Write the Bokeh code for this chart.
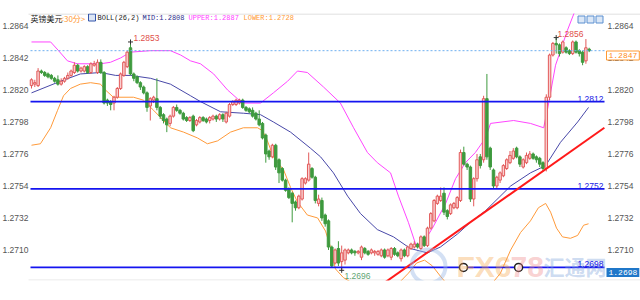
from bokeh.plotting import figure
from bokeh.models import ColumnDataSource, Range1d, Label
from bokeh.embed import file_html
from bokeh.resources import INLINE

# ---------------- data (GBP/USD 30-min candles) ----------------
opens = [1.2823, 1.2824, 1.2823, 1.2833, 1.2832, 1.2831, 1.2830, 1.2828, 1.2827, 1.2824,
         1.2826, 1.2828, 1.2830, 1.2832, 1.2837, 1.2833, 1.2833, 1.2836, 1.2832, 1.2837,
         1.2832, 1.2839, 1.2832, 1.2813, 1.2812, 1.2811, 1.2815, 1.2821, 1.2830, 1.2836,
         1.2849, 1.2831, 1.2829, 1.2825, 1.2822, 1.2818, 1.2809, 1.2813, 1.2814, 1.2808,
         1.2803, 1.2800, 1.2797, 1.2802, 1.2808, 1.2806, 1.2804, 1.2801, 1.2799, 1.2802,
         1.2796, 1.2798, 1.2801, 1.2800, 1.2799, 1.2800, 1.2802, 1.2800, 1.2803, 1.2798,
         1.2802, 1.2810, 1.2810, 1.2811, 1.2813, 1.2808, 1.2807, 1.2806, 1.2804, 1.2800,
         1.2797, 1.2789, 1.2778, 1.2774, 1.2782, 1.2772, 1.2766, 1.2758, 1.2752, 1.2749,
         1.2743, 1.2739, 1.2745, 1.2756, 1.2758, 1.2766, 1.2760, 1.2742, 1.2744, 1.2734,
         1.2730, 1.2712, 1.2701, 1.2711, 1.2702, 1.2703, 1.2708, 1.2710, 1.2709, 1.2708,
         1.2705, 1.2711, 1.2709, 1.2708, 1.2708, 1.2707, 1.2706, 1.2710, 1.2706, 1.2705,
         1.2711, 1.2708, 1.2704, 1.2710, 1.2706, 1.2711, 1.2712, 1.2714, 1.2711, 1.2719,
         1.2713, 1.2725, 1.2730, 1.2742, 1.2744, 1.2749, 1.2737, 1.2735, 1.2739, 1.2739,
         1.2744, 1.2777, 1.2769, 1.2767, 1.2745, 1.2759, 1.2774, 1.2772, 1.2814, 1.2780,
         1.2765, 1.2754, 1.2758, 1.2761, 1.2766, 1.2770, 1.2773, 1.2780, 1.2774, 1.2767,
         1.2770, 1.2773, 1.2776, 1.2774, 1.2773, 1.2770, 1.2766, 1.2815, 1.2844, 1.2852,
         1.2851, 1.2846, 1.2849, 1.2847, 1.2845, 1.2853, 1.2847, 1.2846, 1.2840, 1.2848]
highs = [1.2828, 1.2827, 1.2835, 1.2834, 1.2833, 1.2832, 1.2831, 1.2829, 1.2830, 1.2828,
         1.2829, 1.2832, 1.2834, 1.2839, 1.2838, 1.2836, 1.2837, 1.2837, 1.2839, 1.2840,
         1.2841, 1.2841, 1.2833, 1.2814, 1.2813, 1.2816, 1.2822, 1.2832, 1.2840, 1.2847,
         1.2853, 1.2832, 1.2830, 1.2826, 1.2823, 1.2819, 1.2815, 1.2816, 1.2828, 1.2809,
         1.2804, 1.2801, 1.2803, 1.2809, 1.2810, 1.2807, 1.2805, 1.2802, 1.2802, 1.2803,
         1.2800, 1.2802, 1.2802, 1.2801, 1.2802, 1.2803, 1.2803, 1.2804, 1.2804, 1.2805,
         1.2811, 1.2813, 1.2814, 1.2814, 1.2814, 1.2809, 1.2808, 1.2808, 1.2805, 1.2806,
         1.2798, 1.2790, 1.2779, 1.2783, 1.2783, 1.2773, 1.2767, 1.2759, 1.2753, 1.2750,
         1.2744, 1.2748, 1.2760, 1.2760, 1.2777, 1.2767, 1.2761, 1.2748, 1.2746, 1.2735,
         1.2731, 1.2713, 1.2711, 1.2716, 1.2713, 1.2711, 1.2711, 1.2711, 1.2710, 1.2710,
         1.2713, 1.2712, 1.2710, 1.2711, 1.2710, 1.2710, 1.2711, 1.2711, 1.2711, 1.2712,
         1.2712, 1.2709, 1.2711, 1.2711, 1.2713, 1.2715, 1.2716, 1.2715, 1.2720, 1.2720,
         1.2726, 1.2736, 1.2745, 1.2748, 1.2753, 1.2753, 1.2738, 1.2742, 1.2743, 1.2747,
         1.2779, 1.2781, 1.2770, 1.2768, 1.2760, 1.2776, 1.2776, 1.2816, 1.2831, 1.2781,
         1.2766, 1.2761, 1.2764, 1.2769, 1.2773, 1.2778, 1.2780, 1.2781, 1.2775, 1.2773,
         1.2777, 1.2778, 1.2777, 1.2775, 1.2774, 1.2771, 1.2817, 1.2845, 1.2853, 1.2856,
         1.2852, 1.2854, 1.2850, 1.2848, 1.2854, 1.2854, 1.2848, 1.2847, 1.2855, 1.2849]
lows = [1.2821, 1.2822, 1.2822, 1.2831, 1.2829, 1.2828, 1.2827, 1.2825, 1.2823, 1.2823,
        1.2825, 1.2827, 1.2829, 1.2831, 1.2832, 1.2832, 1.2832, 1.2831, 1.2831, 1.2836,
        1.2831, 1.2831, 1.2810, 1.2809, 1.2806, 1.2806, 1.2814, 1.2820, 1.2829, 1.2835,
        1.2830, 1.2826, 1.2824, 1.2820, 1.2817, 1.2805, 1.2799, 1.2811, 1.2806, 1.2800,
        1.2797, 1.2791, 1.2795, 1.2801, 1.2805, 1.2803, 1.2799, 1.2798, 1.2798, 1.2791,
        1.2795, 1.2797, 1.2798, 1.2797, 1.2797, 1.2799, 1.2798, 1.2799, 1.2798, 1.2797,
        1.2801, 1.2809, 1.2809, 1.2810, 1.2807, 1.2805, 1.2804, 1.2801, 1.2799, 1.2795,
        1.2786, 1.2770, 1.2772, 1.2773, 1.2765, 1.2756, 1.2757, 1.2750, 1.2745, 1.2729,
        1.2737, 1.2738, 1.2744, 1.2755, 1.2757, 1.2759, 1.2742, 1.2740, 1.2730, 1.2726,
        1.2710, 1.2698, 1.2700, 1.2699, 1.2696, 1.2700, 1.2707, 1.2707, 1.2706, 1.2707,
        1.2703, 1.2707, 1.2706, 1.2707, 1.2706, 1.2706, 1.2705, 1.2704, 1.2705, 1.2703,
        1.2706, 1.2705, 1.2702, 1.2705, 1.2705, 1.2710, 1.2711, 1.2711, 1.2710, 1.2712,
        1.2712, 1.2724, 1.2729, 1.2741, 1.2743, 1.2734, 1.2731, 1.2734, 1.2738, 1.2738,
        1.2743, 1.2768, 1.2765, 1.2743, 1.2740, 1.2757, 1.2766, 1.2770, 1.2772, 1.2765,
        1.2752, 1.2752, 1.2756, 1.2760, 1.2765, 1.2769, 1.2772, 1.2773, 1.2767, 1.2766,
        1.2769, 1.2772, 1.2772, 1.2770, 1.2767, 1.2764, 1.2764, 1.2813, 1.2843, 1.2845,
        1.2843, 1.2845, 1.2845, 1.2844, 1.2844, 1.2845, 1.2843, 1.2837, 1.2838, 1.2846]
closes = [1.2827, 1.2825, 1.2833, 1.2832, 1.2830, 1.2829, 1.2828, 1.2826, 1.2824, 1.2826,
          1.2828, 1.2830, 1.2833, 1.2837, 1.2833, 1.2835, 1.2836, 1.2832, 1.2838, 1.2838,
          1.2839, 1.2832, 1.2811, 1.2811, 1.2810, 1.2815, 1.2821, 1.2831, 1.2839, 1.2846,
          1.2831, 1.2828, 1.2825, 1.2822, 1.2818, 1.2808, 1.2814, 1.2815, 1.2808, 1.2802,
          1.2799, 1.2796, 1.2802, 1.2808, 1.2806, 1.2804, 1.2800, 1.2799, 1.2801, 1.2792,
          1.2799, 1.2801, 1.2799, 1.2798, 1.2801, 1.2802, 1.2800, 1.2803, 1.2800, 1.2804,
          1.2810, 1.2812, 1.2813, 1.2813, 1.2808, 1.2806, 1.2805, 1.2802, 1.2800, 1.2796,
          1.2787, 1.2776, 1.2774, 1.2782, 1.2767, 1.2763, 1.2758, 1.2751, 1.2746, 1.2742,
          1.2739, 1.2747, 1.2759, 1.2759, 1.2769, 1.2760, 1.2744, 1.2745, 1.2732, 1.2728,
          1.2712, 1.2699, 1.2710, 1.2701, 1.2708, 1.2710, 1.2710, 1.2708, 1.2708, 1.2709,
          1.2712, 1.2708, 1.2707, 1.2710, 1.2709, 1.2709, 1.2710, 1.2705, 1.2710, 1.2711,
          1.2707, 1.2706, 1.2710, 1.2706, 1.2712, 1.2714, 1.2714, 1.2712, 1.2719, 1.2713,
          1.2725, 1.2735, 1.2744, 1.2747, 1.2747, 1.2736, 1.2733, 1.2741, 1.2742, 1.2746,
          1.2777, 1.2769, 1.2767, 1.2745, 1.2759, 1.2772, 1.2768, 1.2814, 1.2774, 1.2767,
          1.2754, 1.2760, 1.2763, 1.2768, 1.2772, 1.2775, 1.2778, 1.2774, 1.2769, 1.2772,
          1.2775, 1.2776, 1.2773, 1.2772, 1.2769, 1.2766, 1.2815, 1.2844, 1.2852, 1.2851,
          1.2845, 1.2853, 1.2846, 1.2845, 1.2853, 1.2846, 1.2845, 1.2839, 1.2849, 1.2847]

# Bollinger band (26,2) readings: x in candle index, y in price
mid_x = [0, 8.8, 14.8, 20.9, 25.5, 30, 36.1, 42.1, 48.2, 51.2, 57.3, 64.2, 69.4, 73.3, 78.5,
         84.5, 87.6, 91.5, 95.8, 99.7, 104.8, 109.7, 114.8, 120, 123.9, 129.1, 133, 137.6,
         145.2, 151.2, 155.8, 160.3, 165.5, 168.8]
mid_y = [1.2818, 1.2826, 1.2831, 1.2832, 1.2830, 1.2830, 1.2828, 1.2824, 1.2816, 1.2812,
         1.2805, 1.2804, 1.2803, 1.2798, 1.2791, 1.2780, 1.2774, 1.2763, 1.2747, 1.2735,
         1.2724, 1.2719, 1.2711, 1.2708, 1.2712, 1.2721, 1.2729, 1.2737, 1.2754, 1.2763,
         1.2768, 1.2784, 1.2798, 1.2808]
up_x = [0, 5.8, 8.2, 10.9, 13.9, 20.9, 23.9, 27, 30, 36.1, 42.1, 45.2, 48.2, 51.2, 55.2,
        59.4, 62.4, 64.2, 69.4, 73.3, 77.6, 80.6, 83.6, 88.5, 93.6, 97.6, 101.8, 104.8,
        108.8, 111.2, 114.2, 116.4, 118.5, 121.5, 125.5, 128.5, 131.5, 134.5, 137.6, 139.1,
        146.1, 151.2, 155.2, 156.4, 158.8, 160.9, 162.4, 164.8, 168.8]
up_y = [1.2853, 1.2853, 1.2847, 1.2840, 1.2838, 1.2838, 1.2839, 1.2842, 1.2846, 1.2847,
        1.2847, 1.2844, 1.2840, 1.2838, 1.2831, 1.2820, 1.2814, 1.2811, 1.2811, 1.2818,
        1.2826, 1.2833, 1.2832, 1.2822, 1.2811, 1.2794, 1.2777, 1.2770, 1.2763, 1.2747,
        1.2729, 1.2714, 1.2714, 1.2725, 1.2742, 1.2759, 1.2770, 1.2777, 1.2787, 1.2797,
        1.2799, 1.2797, 1.2794, 1.2807, 1.2837, 1.2851, 1.2861, 1.2875, 1.2887]
lo_x = [0, 2.7, 5.8, 7.9, 9.7, 11.8, 14.8, 17.9, 20.9, 22.4, 24.8, 30.9, 33.9, 37, 40,
        42.1, 46.1, 50.3, 53.3, 56.4, 60.3, 64.2, 68.5, 70, 71.5, 73.3, 76.4, 78.5, 80.6,
        83.6, 86.7, 89.1, 90.6, 92.1, 94.5, 96.7, 101.2, 107.3, 111.2, 114.2, 116.7, 119.1,
        121.5, 123.9, 126.1, 130, 135.5, 138.5, 142.1, 145.2, 148.2, 151.2, 153.6, 155.8,
        157.3, 159.1, 160.9, 163.3, 165.5, 167.3, 168.8]
lo_y = [1.2782, 1.2783, 1.2794, 1.2806, 1.2816, 1.2821, 1.2824, 1.2825, 1.2824, 1.2820,
        1.2815, 1.2815, 1.2813, 1.2806, 1.2799, 1.2794, 1.2791, 1.2787, 1.2783, 1.2785,
        1.2791, 1.2794, 1.2794, 1.2792, 1.2785, 1.2774, 1.2765, 1.2753, 1.2743, 1.2734,
        1.2732, 1.2723, 1.2712, 1.2697, 1.2691, 1.2688, 1.2675, 1.2675, 1.2687, 1.2694,
        1.2701, 1.2703, 1.2699, 1.2692, 1.2686, 1.2675, 1.2675, 1.2684, 1.2694, 1.2710,
        1.2722, 1.2730, 1.2739, 1.2742, 1.2736, 1.2725, 1.2719, 1.2718, 1.2720, 1.2727,
        1.2728]

levels = [1.2812, 1.2752, 1.2698]          # drawn horizontal support/resistance lines
last_price = 1.2847
ticks = [1.2710, 1.2732, 1.2754, 1.2776, 1.2798, 1.2820, 1.2842, 1.2864]
trend_x = [107.3, 173.6]                   # hand-drawn red trend line
trend_y = [1.2688, 1.2794]
circle_x = [130.9, 147.6]                  # drawing handles on the 1.2698 line
circle_y = [1.2698, 1.2698]
hi1_i, hi2_i, lo_i = 30, 159, 94           # marked extreme candles

# ---------------- pixel helpers for placing annotations ----------------
X0, DX = 31.0, 3.3
def px_x(px):
    return (px - X0) / DX
def px_y(py):
    return 1.28815 - 0.00006875 * py

RED_LINE, RED_FILL = "#e25a5a", "#f9cfcf"
GREEN = "#3e9a3e"
PLOT_L, PLOT_R = 30, 604

# the frame covers the full width; the price scale is drawn as text
p = figure(width=640, height=300, output_backend="svg", toolbar_location=None,
           x_range=Range1d(px_x(0), px_x(640)), y_range=Range1d(px_y(280), px_y(13)),
           x_axis_location=None, y_axis_location=None,
           min_border_left=0, min_border_right=0, min_border_top=13, min_border_bottom=20,
           background_fill_color="white", border_fill_color="white",
           outline_line_color=None)
p.xgrid.visible = False
p.ygrid.visible = False

# thin frame lines
p.line([px_x(28), px_x(640)], [px_y(13.5)] * 2, line_color="#d6d6d6", line_width=1)
p.line([px_x(28), px_x(640)], [px_y(279.5)] * 2, line_color="#e4e4e4", line_width=1)

n = len(closes)
up = [closes[i] >= opens[i] for i in range(n)]
src = ColumnDataSource(dict(
    x=list(range(n)), o=opens, h=highs, l=lows, c=closes,
    top=[max(opens[i], closes[i]) for i in range(n)],
    bottom=[min(opens[i], closes[i]) for i in range(n)],
    fill=[RED_FILL if u else GREEN for u in up],
    line=[RED_LINE if u else GREEN for u in up],
))

# bands under candles
p.line(up_x, up_y, line_color="#ff45ff", line_width=1)
p.line(lo_x, lo_y, line_color="#ff9a3a", line_width=1)
p.line(mid_x, mid_y, line_color="#4848a8", line_width=1)

p.segment(x0="x", y0="h", x1="x", y1="l", line_color="line", line_width=1, source=src)
p.vbar(x="x", width=0.75, top="top", bottom="bottom", fill_color="fill",
       line_color="line", line_width=1, source=src)

xl, xr = px_x(PLOT_L), px_x(PLOT_R)
p.segment(x0=[xl], y0=[last_price], x1=[xr], y1=[last_price], line_color="#6fb0f0",
          line_dash="2 2", line_width=1)
p.segment(x0=[xl] * len(levels), y0=levels, x1=[xr] * len(levels), y1=levels,
          line_color="#1414f0", line_width=1.6)

p.line(trend_x, trend_y, line_color="#ff1a1a", line_width=2)
p.scatter(circle_x, circle_y, size=8, fill_color="white", line_color="#222222",
          line_width=1.5)

# extreme markers
p.scatter([hi1_i, hi2_i, lo_i], [highs[hi1_i], highs[hi2_i], lows[lo_i]],
          marker="cross", size=5, line_color="#333333", line_width=1)

def lab(px, py, text, color, size="8.5px", font="Liberation Sans", align="left",
        baseline="middle", **kw):
    p.add_layout(Label(x=px_x(px), y=px_y(py), text=text, text_color=color,
                       text_font=font, text_font_size=size, text_align=align,
                       text_baseline=baseline, **kw))

# price scale, both sides
for t in ticks:
    for px, al in ((28, "left"), (607, "left")):
        p.add_layout(Label(x=px_x(px), y=t, text="%.4f" % t, text_color="#555555",
                           text_font="Liberation Sans", text_font_size="8.5px",
                           text_align="right" if px == 28 else "left",
                           text_baseline="middle"))

lab(133, 37, "%.4f" % highs[hi1_i], "#e0504a")
lab(557, 33, "%.4f" % highs[hi2_i], "#e0504a")
lab(344, 275, "%.4f" % lows[lo_i], "#5fa574")

# legend row
lab(30, 17.5, "英镑美元", "#222222", size="8px", font="Noto Sans CJK SC")
lab(59, 17.5, "<30分>", "#ff9933", size="8px", font="Noto Sans CJK SC")
p.scatter([px_x(91.5)], [px_y(17)], marker="square", size=7, fill_color="#dde6f5",
          line_color="#3355aa", line_width=1)
lab(97, 17.5, "BOLL(26,2)", "#222222", size="7px", font="Liberation Mono")
lab(142, 17.5, "MID:1.2808", "#2b2b8c", size="7px", font="Liberation Mono")
lab(188, 17.5, "UPPER:1.2887", "#ff40ff", size="7px", font="Liberation Mono")
lab(243, 17.5, "LOWER:1.2728", "#ff9933", size="7px", font="Liberation Mono")

# small toolbar icons top right
p.scatter([px_x(581), px_x(590), px_x(599)], [px_y(19)] * 3, marker="square", size=7,
          fill_color="#dbe7f6", line_color="#5b8fd0", line_width=1)

# watermark
p.scatter([px_x(428)], [px_y(266)], size=34, fill_color=None, line_color="#9dbbe6",
          line_width=4, line_alpha=0.45)
lab(456, 266, "FX6", "#f6a850", size="30px", font="Liberation Sans",
    text_font_style="bold", text_alpha=0.4)
lab(510, 266, "78", "#f08a8a", size="30px", font="Liberation Sans",
    text_font_style="bold", text_alpha=0.4)
lab(543, 265, "汇通网", "#7ea4da", size="21px", font="Noto Sans CJK SC",
    text_font_style="bold", text_alpha=0.4)

# level labels
for v in levels:
    p.add_layout(Label(x=px_x(603), y=v, text="%.4f" % v, text_color="#1a1ae6",
                       text_font="Liberation Sans", text_font_size="8.5px",
                       text_align="right", text_baseline="bottom"))

# right-hand price tags (drawn over the scale)
lab(606, 55, "%.4f" % last_price, "#ff8c1a", size="8px", font="Liberation Mono",
    border_line_color="#ff9933", background_fill_color="white", padding=2)
lab(606, 272, "%.4f" % levels[2], "white", size="8px", font="Liberation Mono",
    background_fill_color="#1f77c9", padding=2)

open("out.html", "w").write(file_html(p, INLINE))
